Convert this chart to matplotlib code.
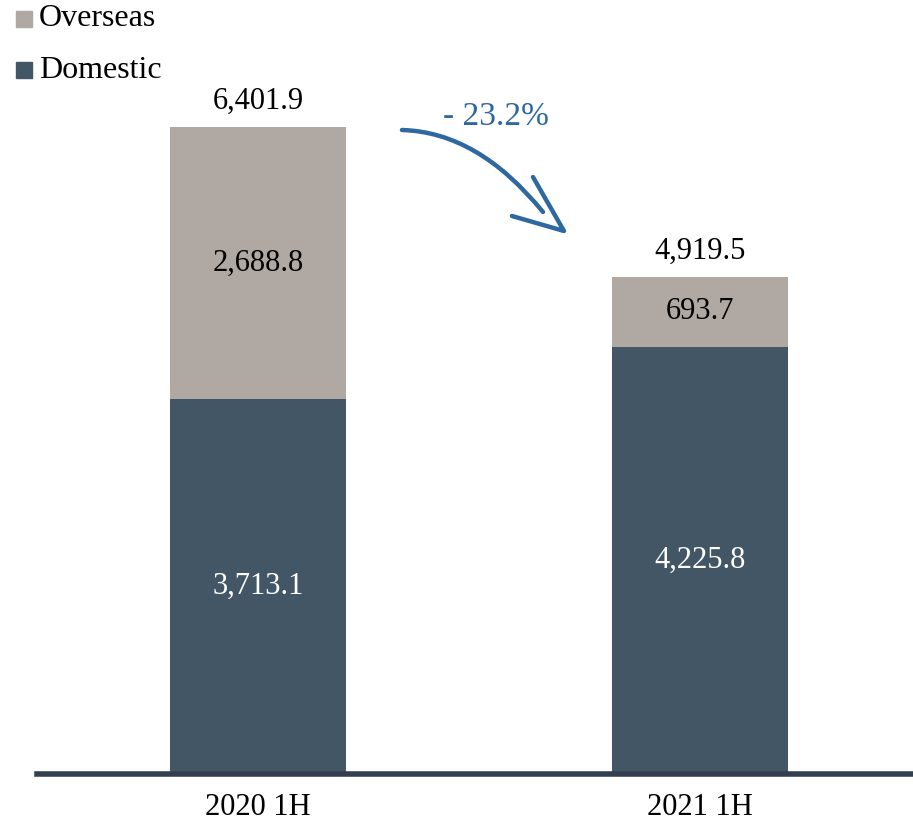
import numpy as np
import matplotlib.pyplot as plt
from matplotlib.path import Path
from matplotlib.patches import PathPatch

plt.rcParams['font.family'] = ['Liberation Serif', 'DejaVu Serif']
SERIF = ['Liberation Serif', 'DejaVu Serif']

# data
periods = ["2020 1H", "2021 1H"]
domestic = [3713.1, 4225.8]
overseas = [2688.8, 693.7]
totals = [6401.9, 4919.5]
change_label = "- 23.2%"

c_dom = "#435665"
c_ovs = "#B0A8A2"
c_axis = "#333F50"
c_blue = "#2E68A0"

fig = plt.figure(figsize=(9.13, 8.24), dpi=100)
ax = fig.add_axes([37 / 913, 50 / 824, 876 / 913, 774 / 824])

x = np.arange(len(periods))
w = 0.398
ax.bar(x, domestic, w, color=c_dom, label="Domestic", zorder=1)
ax.bar(x, overseas, w, bottom=domestic, color=c_ovs, label="Overseas", zorder=1)

ax.set_xlim(-0.5, 1.482)
ax.set_ylim(0, 7659)

for i in range(len(periods)):
    ax.text(x[i], domestic[i] / 2, f"{domestic[i]:,.1f}", ha="center", va="center",
            color="white", fontsize=22, family=SERIF)
    ax.text(x[i], domestic[i] + overseas[i] / 2, f"{overseas[i]:,.1f}", ha="center",
            va="center", color="black", fontsize=22, family=SERIF)
    ax.annotate(f"{totals[i]:,.1f}", (x[i], totals[i]), xytext=(0, 8),
                textcoords="offset points", ha="center", va="bottom", fontsize=22,
                family=SERIF)

for s in ["top", "right", "left"]:
    ax.spines[s].set_visible(False)
ax.spines["bottom"].set_color(c_axis)
ax.spines["bottom"].set_linewidth(4)
ax.set_yticks([])
ax.set_xticks(x)
ax.set_xticklabels(periods, fontsize=22, family=SERIF)
ax.tick_params(axis="x", length=0, pad=14)

# legend drawn manually (top left)
def px(xp, yp):
    return (xp / 913, 1 - yp / 824)

for yp, col, lab in [(19, c_ovs, "Overseas"), (70, c_dom, "Domestic")]:
    fig.patches.append(plt.Rectangle(px(16, yp + 8), 16 / 913, 16 / 824,
                                     transform=fig.transFigure, color=col))
    fig.text(*px(39, yp), lab, fontsize=23, va="center", ha="left", family=SERIF)

# change annotation
fig.text(*px(496, 117), change_label, color=c_blue, fontsize=24, ha="center",
         va="center", family=SERIF)
shaft = Path([px(402, 130), px(478, 132), px(543, 212)],
             [Path.MOVETO, Path.CURVE3, Path.CURVE3])
fig.patches.append(PathPatch(shaft, transform=fig.transFigure, fill=False,
                             edgecolor=c_blue, lw=3.2, capstyle="round"))
head = Path([px(533, 177), px(564, 231), px(512, 216)],
            [Path.MOVETO, Path.LINETO, Path.LINETO])
fig.patches.append(PathPatch(head, transform=fig.transFigure, fill=False,
                             edgecolor=c_blue, lw=3.2, capstyle="round", joinstyle="round"))

fig.savefig("out.png", dpi=100)
